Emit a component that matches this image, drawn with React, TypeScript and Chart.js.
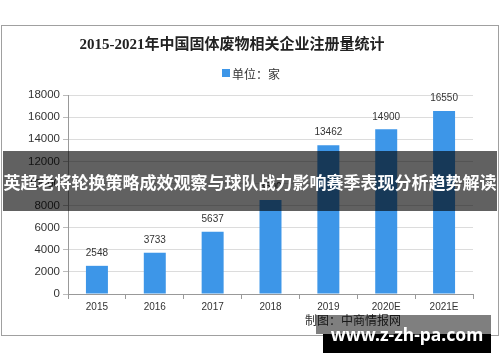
import React, { useEffect, useRef } from "react";
import { Chart, registerables } from "chart.js";

Chart.register(...registerables);

const categories = ["2015", "2016", "2017", "2018", "2019", "2020E", "2021E"];
const registrations = [2548, 3733, 5637, 8500, 13462, 14900, 16550];
const yTicks = [0, 2000, 4000, 6000, 8000, 10000, 12000, 14000, 16000, 18000];
const titleText = "2015-2021年中国固体废物相关企业注册量统计";
const legendText = "单位：家";
const bannerText = "英超老将轮换策略成效观察与球队战力影响赛季表现分析趋势解读";
const sourceText = "制图：中商情报网";
const siteText = "www.z-zh-pa.com";

const BAR_COLOR = "#3d96e8";

const valueLabels = {
  id: "valueLabels",
  afterDatasetsDraw(chart: any) {
    const ctx = chart.ctx;
    const meta = chart.getDatasetMeta(0);
    ctx.save();
    ctx.font = '10px "Liberation Sans", Arial, sans-serif';
    ctx.fillStyle = "#333";
    ctx.textAlign = "center";
    ctx.textBaseline = "middle";
    meta.data.forEach((bar: any, i: number) => {
      ctx.fillText(String(registrations[i]), bar.x, bar.y - 12.5);
    });
    ctx.restore();
  },
};

export default function App() {
  const canvasRef = useRef<HTMLCanvasElement | null>(null);

  useEffect(() => {
    if (!canvasRef.current) return;
    const chart = new Chart(canvasRef.current, {
      type: "bar",
      data: {
        labels: categories,
        datasets: [
          {
            label: legendText,
            data: registrations,
            backgroundColor: BAR_COLOR,
            barPercentage: 0.38,
            categoryPercentage: 1,
          },
        ],
      },
      options: {
        animation: false,
        responsive: false,
        maintainAspectRatio: false,
        layout: { padding: { top: 95, left: 0, right: 27, bottom: 0 } },
        plugins: {
          legend: { display: false },
          title: { display: false },
          tooltip: { enabled: false },
        },
        scales: {
          y: {
            min: 0,
            max: 18000,
            afterBuildTicks: (s: any) => {
              s.ticks = yTicks.map((v) => ({ value: v }));
            },
            afterFit: (s: any) => {
              s.width = 68;
            },
            ticks: {
              font: { family: '"Liberation Sans", Arial, sans-serif', size: 11.5 },
              color: "#333",
              padding: 3,
              callback: (v: any) => String(v),
            },
            grid: { color: "#dcdcdc", tickLength: 5, tickColor: "#bbb" },
            border: { color: "#999" },
          },
          x: {
            afterFit: (s: any) => {
              s.height = 68;
            },
            ticks: {
              font: { family: '"Liberation Sans", Arial, sans-serif', size: 10 },
              color: "#333",
              padding: 2,
            },
            grid: {
              display: true,
              drawOnChartArea: false,
              tickLength: 5,
              color: "#999",
              offset: true,
            },
            border: { color: "#999" },
          },
        },
      },
      plugins: [valueLabels],
    });
    return () => chart.destroy();
  }, []);

  return (
    <div
      style={{
        position: "absolute",
        left: 0,
        top: 0,
        width: 500,
        height: 362,
        background: "#fff",
        overflow: "hidden",
      }}
    >
      <div
        style={{
          position: "absolute",
          left: 1,
          top: 25,
          width: 496,
          height: 309,
          border: "1px solid #a0a0a0",
        }}
      />
      <canvas
        ref={canvasRef}
        width={500}
        height={362}
        style={{ position: "absolute", left: 0, top: 0, width: 500, height: 362 }}
      />
      <div
        style={{
          position: "absolute",
          left: 0,
          top: 34,
          width: 464,
          textAlign: "center",
          fontFamily: '"Liberation Serif", "Noto Sans CJK SC", serif',
          fontWeight: "bold",
          fontSize: 15,
          lineHeight: "20px",
          color: "#222",
          whiteSpace: "nowrap",
        }}
      >
        {titleText}
      </div>
      <div
        style={{
          position: "absolute",
          left: 222,
          top: 65,
          height: 16,
          display: "flex",
          alignItems: "center",
          fontFamily: '"Noto Sans CJK SC", sans-serif',
          fontSize: 12,
          color: "#333",
          whiteSpace: "nowrap",
        }}
      >
        <span
          style={{ display: "inline-block", width: 8, height: 8, background: BAR_COLOR, marginRight: 2 }}
        />
        {legendText}
      </div>
      <div
        style={{
          position: "absolute",
          left: 3,
          top: 151,
          width: 494,
          height: 60,
          background: "rgba(0,0,0,0.62)",
          display: "flex",
          alignItems: "center",
          justifyContent: "center",
          fontFamily: '"Noto Sans CJK SC", sans-serif',
          fontWeight: "bold",
          fontSize: 17,
          color: "#fff",
          whiteSpace: "nowrap",
        }}
      >
        {bannerText}
      </div>
      <div
        style={{
          position: "absolute",
          left: 305,
          top: 312,
          fontFamily: '"Noto Sans CJK SC", sans-serif',
          fontSize: 12,
          lineHeight: "16px",
          color: "#333",
          whiteSpace: "nowrap",
        }}
      >
        {sourceText}
      </div>
      <div
        style={{
          position: "absolute",
          left: 316,
          top: 315,
          width: 175,
          height: 19,
          background: "rgba(0,0,0,0.5)",
        }}
      />
      <div
        style={{
          position: "absolute",
          left: 323,
          top: 334,
          width: 168,
          height: 19,
          background: "#000",
        }}
      />
      <div
        style={{
          position: "absolute",
          left: 323,
          top: 321,
          width: 168,
          height: 26,
          display: "flex",
          alignItems: "center",
          justifyContent: "center",
          fontFamily: '"Noto Sans", sans-serif',
          fontWeight: "bold",
          fontSize: 17.5,
          color: "#fff",
          whiteSpace: "nowrap",
        }}
      >
        {siteText}
      </div>
    </div>
  );
}
